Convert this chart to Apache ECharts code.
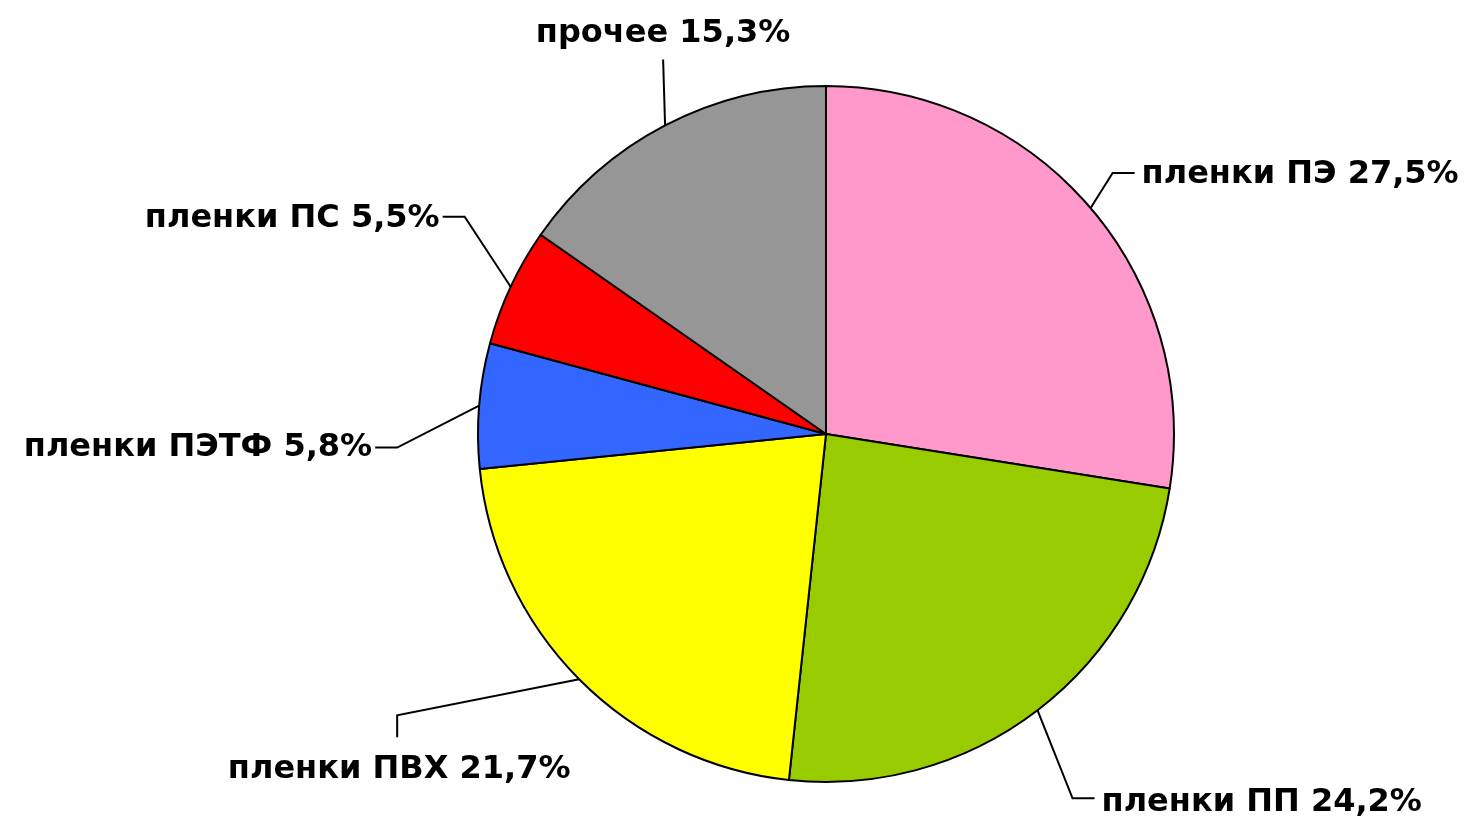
<!DOCTYPE html>
<html>
<head>
<meta charset="utf-8">
<script src="https://cdn.jsdelivr.net/npm/echarts@6/dist/echarts.min.js"></script>
<style>
html,body{margin:0;padding:0;background:#fff;}
#chart{width:1468px;height:818px;}
</style>
</head>
<body>
<div id="chart"></div>
<script>
// ---- data ----
var categories = ['пленки ПЭ', 'пленки ПП', 'пленки ПВХ', 'пленки ПЭТФ', 'пленки ПС', 'прочее'];
var shares = [27.5, 24.2, 21.7, 5.8, 5.5, 15.3];
var colors = ['#FF99CC', '#99CC00', '#FFFF00', '#3366FF', '#FF0000', '#969696'];

// ---- leader-line styling (layout only) ----
var leaders = [
  {bend: [22, -35], tail: [22, 0], align: 'left',   off: [7, 2]},
  {bend: [35, 88],  tail: [22, 0], align: 'left',   off: [7, 4]},
  {bend: [-182, 36], tail: [0, 22], align: 'center', off: [2, 32]},
  {bend: [-82, 42], tail: [-22, 0], align: 'right',  off: [-3, 0]},
  {bend: [-46, -70], tail: [-22, 0], align: 'right', off: [-3, 2]},
  {bend: [-2, -66], tail: [0, 0],  align: 'center', off: [0, -26]}
];

var chart = echarts.init(document.getElementById('chart'), null, {renderer: 'canvas'});

var pieData = categories.map(function (c, i) {
  return {name: c, value: shares[i], itemStyle: {color: colors[i]}};
});

chart.setOption({
  backgroundColor: '#ffffff',
  animation: false,
  series: [{
    type: 'pie',
    center: [826, 434],
    radius: [0, 348],
    startAngle: 90,
    clockwise: true,
    avoidLabelOverlap: false,
    data: pieData,
    itemStyle: {borderColor: '#000', borderWidth: 2},
    emphasis: {disabled: true},
    label: {
      show: true,
      position: 'outside',
      color: '#000',
      fontFamily: 'DejaVu Sans',
      fontWeight: 'bold',
      fontSize: 32,
      formatter: function (p) {
        return p.name + ' ' + p.value.toFixed(1).replace('.', ',') + '%';
      }
    },
    labelLine: {
      show: true,
      length: 20,
      length2: 20,
      lineStyle: {color: '#000', width: 2}
    },
    labelLayout: function (params) {
      var cfg = leaders[params.dataIndex];
      var p0 = params.labelLinePoints[0];
      var p1 = [p0[0] + cfg.bend[0], p0[1] + cfg.bend[1]];
      var p2 = [p1[0] + cfg.tail[0], p1[1] + cfg.tail[1]];
      return {
        x: p2[0] + cfg.off[0],
        y: p2[1] + cfg.off[1],
        align: cfg.align,
        verticalAlign: 'middle',
        labelLinePoints: [p0, p1, p2]
      };
    }
  }]
});
</script>
</body>
</html>
